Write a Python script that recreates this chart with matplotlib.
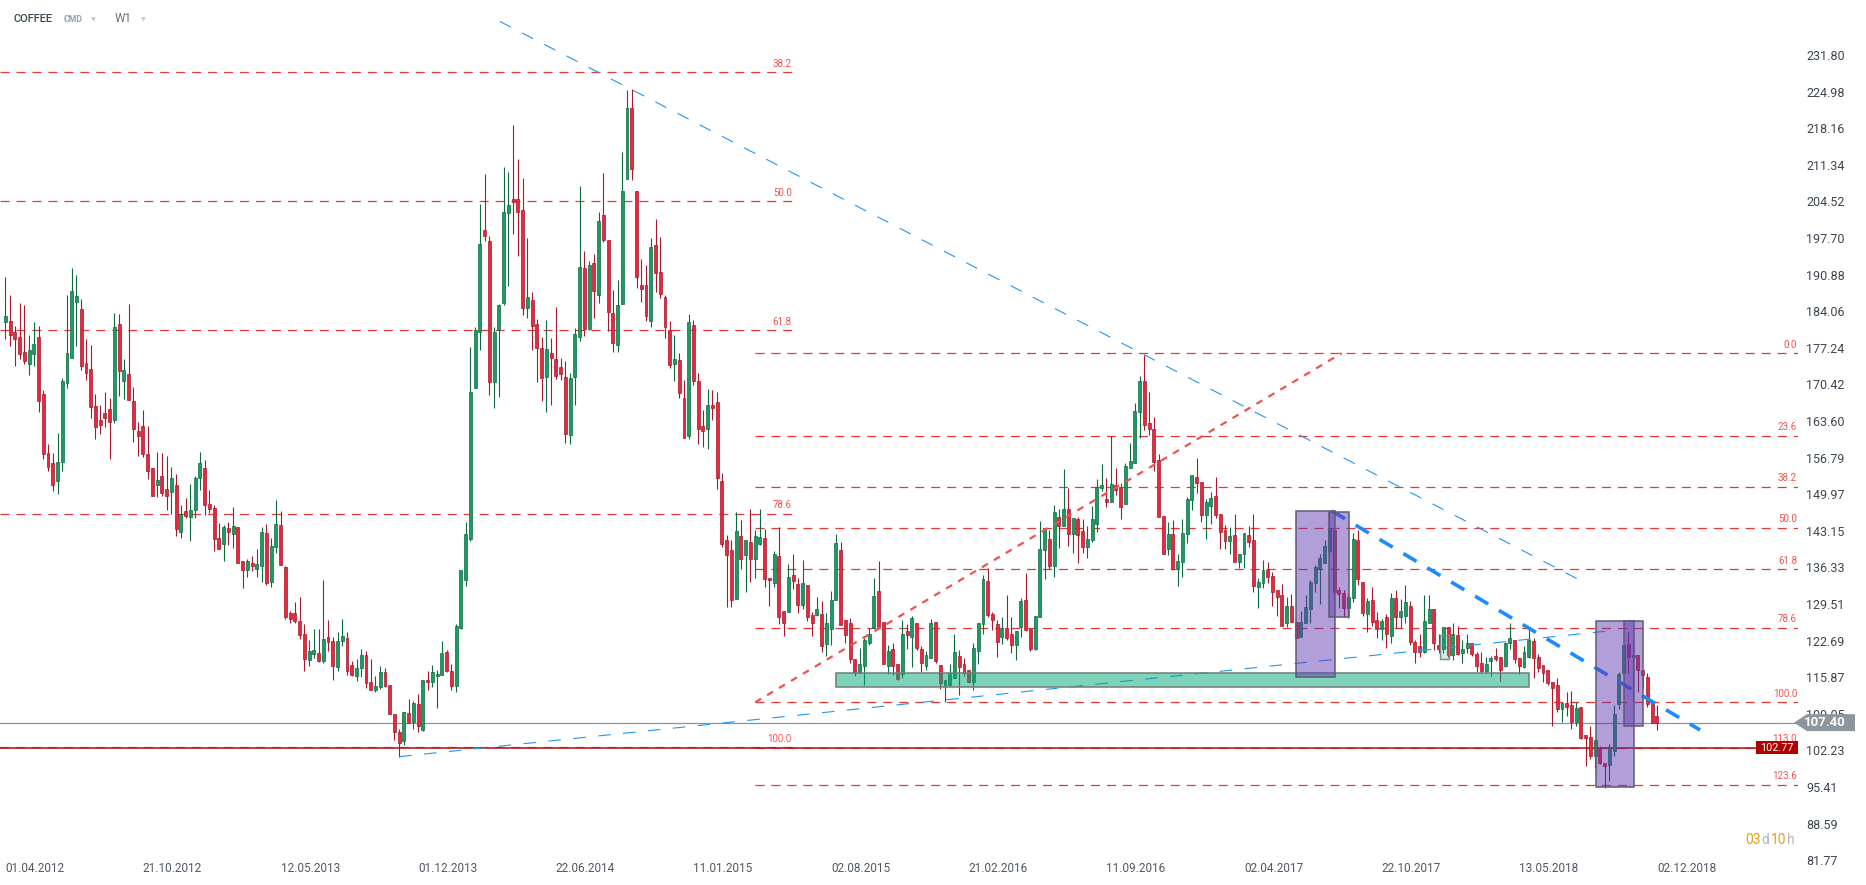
import numpy as np
import pandas as pd
import matplotlib
matplotlib.use("Agg")
import matplotlib.pyplot as plt
import matplotlib.transforms as mtransforms
from matplotlib.patches import Rectangle, Polygon

plt.rcParams['font.family'] = ['Roboto', 'DejaVu Sans']
plt.rcParams['lines.scale_dashes'] = False

# -------------------
# DATA (weekly candles, first candle = week of 01.04.2012)
# -------------------
OPEN = [182.1, 182.2, 180.2, 179.2, 176.4, 174.3, 176.0, 179.2, 168.6, 157.6,
        155.8, 152.5, 155.9, 170.7, 175.4, 185.8, 184.4, 174.5, 173.3, 166.4,
        163.8, 165.1, 165.8, 163.7, 181.7, 171.1, 172.4, 167.3, 161.7, 162.7,
        157.4, 154.8, 151.6, 153.4, 150.9, 150.4, 151.7, 143.0, 146.8, 145.8,
        147.1, 152.9, 154.8, 148.1, 147.4, 141.8, 140.6, 143.7, 142.6, 143.9,
        137.5, 135.8, 137.1, 136.1, 136.5, 142.7, 133.7, 140.2, 144.2, 136.4,
        127.9, 127.8, 126.3, 123.9, 119.1, 120.1, 120.3, 118.9, 123.3, 122.6,
        117.8, 122.7, 123.1, 118.2, 116.1, 117.5, 120.0, 114.9, 113.4, 114.0,
        116.9, 114.5, 109.1, 105.7, 103.9, 109.2, 107.5, 110.9, 106.1, 115.4,
        114.9, 116.1, 116.2, 120.5, 117.1, 114.2, 125.0, 133.9, 141.6, 169.7,
        180.2, 199.2, 197.1, 170.9, 180.5, 185.5, 202.3, 205.0, 205.0, 202.9,
        184.6, 186.1, 181.6, 177.2, 171.8, 176.3, 175.1, 173.7, 171.8, 161.0,
        171.8, 179.3, 192.2, 180.8, 193.1, 187.0, 202.0, 197.3, 183.8, 177.8,
        185.4, 208.7, 222.0, 206.5, 188.9, 188.9, 182.2, 196.4, 191.4, 186.8,
        180.6, 174.2, 174.9, 167.8, 160.9, 181.5, 171.0, 162.6, 162.2, 166.6,
        167.1, 152.4, 141.4, 139.6, 130.5, 142.2, 138.6, 141.0, 137.8, 140.7,
        141.8, 134.4, 133.5, 138.4, 128.2, 128.1, 135.0, 133.2, 129.3, 133.0,
        127.5, 127.5, 127.6, 122.1, 124.9, 130.2, 139.6, 126.5, 125.9, 119.2,
        116.7, 118.0, 122.3, 125.1, 131.9, 126.1, 118.0, 121.1, 118.3, 116.4,
        124.4, 123.4, 125.9, 121.1, 118.0, 119.5, 126.2, 118.1, 114.2, 114.5,
        115.8, 119.9, 118.3, 117.2, 115.0, 120.8, 125.7, 133.8, 127.6, 125.7,
        123.4, 125.0, 123.9, 121.9, 125.3, 130.2, 124.8, 121.2, 127.0, 139.6,
        141.7, 136.6, 145.7, 144.1, 147.2, 142.5, 145.3, 143.1, 140.2, 141.4,
        144.5, 151.2, 149.1, 148.6, 151.7, 151.4, 148.1, 154.9, 155.8, 165.2,
        171.1, 163.2, 162.1, 156.3, 145.9, 139.7, 142.5, 136.3, 137.3, 142.5,
        148.8, 153.2, 152.2, 146.0, 147.8, 149.6, 146.3, 143.3, 141.3, 142.4,
        137.3, 138.8, 142.4, 141.4, 132.7, 133.4, 135.8, 134.8, 132.1, 131.1,
        125.9, 129.1, 126.2, 123.3, 125.9, 128.6, 133.5, 136.0, 137.1, 139.4,
        143.3, 132.1, 131.5, 128.7, 130.6, 141.4, 133.6, 127.6, 130.3, 126.5,
        124.9, 127.0, 123.6, 130.7, 127.0, 127.3, 129.1, 122.4, 121.7, 120.5,
        125.9, 128.6, 121.9, 121.2, 125.3, 120.0, 123.7, 120.3, 121.4, 122.2,
        120.1, 118.5, 117.1, 118.8, 119.8, 119.6, 118.0, 122.2, 122.8, 119.4,
        117.8, 119.7, 122.6, 119.6, 118.2, 117.2, 114.9, 114.4, 109.9, 111.0,
        110.7, 107.6, 110.3, 105.1, 104.8, 101.2, 102.6, 99.8, 99.6, 102.2,
        110.9, 116.7, 122.0, 119.6, 120.0, 117.2, 115.9, 111.3, 108.6]
HIGH = [190.5, 187.1, 181.3, 185.6, 185.2, 179.6, 182.0, 181.3, 169.4, 159.3,
        157.6, 161.4, 171.7, 187.1, 192.1, 190.8, 186.3, 178.9, 177.8, 168.6,
        166.6, 169.0, 167.9, 183.7, 183.5, 175.2, 185.4, 169.9, 163.4, 165.6,
        162.7, 154.8, 157.8, 157.6, 157.1, 155.0, 153.7, 147.9, 149.2, 151.9,
        153.4, 157.8, 156.3, 150.7, 147.9, 144.6, 144.2, 144.8, 147.5, 143.9,
        137.5, 137.8, 138.4, 139.7, 143.9, 144.4, 141.8, 148.8, 146.8, 136.6,
        128.2, 129.9, 130.8, 125.8, 122.8, 124.8, 124.8, 134.0, 126.5, 123.4,
        124.3, 126.7, 124.2, 118.8, 119.2, 121.1, 120.8, 119.2, 116.1, 117.9,
        117.5, 114.5, 109.1, 106.2, 109.4, 111.9, 111.4, 112.7, 115.4, 117.1,
        118.2, 117.3, 122.6, 121.0, 118.4, 125.8, 135.8, 144.7, 177.4, 181.2,
        204.0, 209.6, 198.0, 181.2, 185.4, 210.9, 210.0, 218.8, 212.5, 208.8,
        197.7, 187.7, 182.7, 179.2, 182.4, 179.1, 184.8, 175.3, 174.8, 172.6,
        180.9, 207.4, 195.3, 193.4, 194.8, 202.6, 209.8, 197.3, 188.0, 189.9,
        213.7, 225.3, 225.4, 206.5, 193.8, 192.6, 197.7, 201.2, 197.9, 187.0,
        182.2, 179.6, 176.2, 171.2, 183.5, 182.5, 172.5, 165.7, 169.5, 169.4,
        169.1, 153.9, 142.4, 141.4, 146.6, 145.2, 141.4, 147.3, 143.3, 147.2,
        143.5, 134.4, 139.3, 143.9, 128.2, 137.0, 138.8, 134.3, 137.7, 133.0,
        128.0, 130.9, 130.0, 127.8, 131.9, 142.6, 141.0, 126.5, 126.9, 119.2,
        121.3, 123.1, 125.0, 134.3, 137.5, 126.1, 121.9, 122.2, 118.3, 126.6,
        125.7, 127.3, 125.9, 121.6, 120.8, 126.8, 126.2, 118.1, 115.3, 118.3,
        123.9, 120.9, 119.4, 117.2, 122.3, 126.0, 134.9, 136.3, 128.1, 126.5,
        127.1, 131.2, 127.1, 124.5, 130.7, 135.3, 124.8, 127.3, 145.0, 143.4,
        143.3, 148.0, 147.2, 154.7, 151.2, 145.5, 145.7, 145.3, 144.0, 147.8,
        152.8, 155.6, 153.0, 160.9, 154.8, 152.0, 155.8, 159.5, 167.0, 172.0,
        175.9, 169.1, 164.3, 157.5, 145.9, 144.7, 145.2, 138.8, 145.3, 149.4,
        153.6, 156.8, 152.2, 149.1, 150.4, 153.2, 146.3, 144.3, 143.9, 146.3,
        138.8, 142.7, 144.0, 146.3, 134.3, 137.7, 137.3, 135.4, 132.1, 133.2,
        130.9, 131.4, 126.2, 128.2, 131.2, 134.0, 136.8, 138.8, 141.4, 146.8,
        143.3, 132.6, 132.1, 131.4, 142.7, 143.3, 133.6, 130.7, 132.6, 128.0,
        126.8, 127.6, 131.6, 132.2, 130.4, 133.1, 130.1, 122.8, 123.9, 131.2,
        131.2, 128.6, 123.9, 125.3, 125.3, 125.9, 125.5, 122.8, 124.0, 122.3,
        120.6, 120.6, 119.6, 119.8, 121.3, 119.6, 122.5, 125.9, 122.8, 119.4,
        121.6, 124.8, 123.2, 120.2, 118.2, 117.2, 114.9, 115.7, 111.3, 113.1,
        113.3, 111.3, 110.3, 105.1, 106.8, 104.2, 103.1, 99.8, 103.4, 110.7,
        116.8, 121.9, 124.2, 122.8, 120.0, 117.2, 116.7, 111.3, 110.7]
LOW = [178.9, 177.6, 173.9, 175.2, 174.2, 172.2, 173.9, 165.2, 156.5, 154.3,
       150.6, 150.0, 154.2, 169.8, 175.4, 177.6, 173.1, 171.2, 164.2, 160.2,
       161.1, 162.5, 156.5, 163.2, 168.3, 167.7, 167.6, 159.7, 157.1, 156.9,
       152.8, 149.7, 149.5, 149.7, 147.0, 146.3, 142.2, 141.8, 145.6, 141.3,
       145.6, 150.7, 146.1, 146.5, 139.4, 139.7, 137.6, 140.5, 140.0, 137.2,
       132.5, 134.6, 135.7, 134.6, 133.7, 133.0, 132.7, 139.1, 136.8, 126.8,
       125.9, 126.0, 122.9, 117.1, 117.9, 119.5, 118.7, 118.6, 120.8, 115.4,
       117.1, 121.7, 116.3, 116.0, 115.2, 115.9, 113.8, 113.4, 113.1, 113.7,
       114.0, 109.0, 104.2, 101.0, 103.2, 107.4, 106.3, 105.7, 105.9, 113.5,
       114.0, 110.2, 116.2, 116.9, 113.5, 113.2, 124.8, 132.9, 141.3, 169.7,
       176.9, 197.2, 168.5, 166.0, 168.1, 185.3, 188.7, 198.4, 194.4, 183.4,
       182.8, 176.9, 170.9, 167.4, 165.2, 166.6, 171.5, 171.2, 159.5, 159.4,
       166.6, 178.6, 179.4, 180.6, 182.8, 185.5, 197.0, 180.3, 176.5, 176.4,
       185.4, 208.7, 208.6, 188.4, 185.7, 182.2, 181.1, 187.6, 186.6, 179.0,
       173.4, 171.1, 167.8, 160.4, 160.2, 170.3, 159.4, 158.8, 158.4, 163.8,
       151.0, 140.2, 128.9, 128.9, 130.5, 136.0, 131.8, 133.6, 134.3, 140.5,
       132.6, 129.1, 132.7, 125.8, 123.5, 128.1, 132.3, 127.9, 128.6, 126.3,
       123.5, 127.3, 120.6, 119.9, 121.8, 130.2, 125.6, 122.3, 118.5, 116.0,
       116.7, 114.5, 121.9, 125.1, 125.1, 118.4, 116.4, 116.3, 115.3, 115.7,
       121.1, 117.8, 120.9, 116.9, 117.2, 119.5, 118.5, 113.6, 111.3, 114.3,
       115.8, 112.5, 116.0, 115.0, 113.5, 118.4, 124.0, 127.0, 124.7, 119.7,
       122.0, 122.8, 120.4, 119.1, 123.3, 124.4, 120.8, 120.9, 127.0, 134.1,
       136.0, 134.6, 140.0, 144.1, 140.4, 139.1, 137.1, 139.1, 138.0, 141.1,
       142.9, 150.6, 147.5, 148.6, 149.8, 145.3, 148.1, 154.8, 155.8, 160.4,
       161.9, 161.0, 154.2, 145.8, 138.9, 138.6, 136.0, 132.9, 134.5, 140.8,
       147.0, 150.2, 144.7, 141.7, 144.4, 145.5, 139.7, 139.7, 138.8, 137.3,
       136.3, 136.3, 140.1, 131.7, 128.7, 132.4, 133.5, 129.2, 127.3, 125.5,
       125.3, 126.2, 123.1, 123.3, 125.9, 125.9, 131.8, 129.5, 137.1, 138.3,
       130.2, 128.7, 127.1, 126.9, 129.8, 133.0, 127.3, 124.3, 125.5, 123.1,
       122.8, 121.3, 122.3, 125.0, 125.0, 125.9, 121.9, 118.5, 119.6, 120.3,
       125.9, 120.9, 120.4, 120.3, 119.7, 119.1, 120.0, 118.5, 120.3, 119.8,
       116.9, 116.6, 116.7, 116.0, 118.9, 115.2, 117.8, 121.2, 118.5, 116.5,
       117.6, 119.4, 115.7, 116.9, 115.0, 114.4, 106.8, 109.3, 107.6, 108.7,
       106.2, 106.7, 104.3, 99.4, 100.6, 98.9, 99.7, 95.2, 96.6, 101.1,
       109.9, 116.7, 116.6, 111.3, 113.2, 113.8, 110.3, 107.3, 106.0]
CLOSE = [183.2, 179.7, 178.8, 176.1, 174.7, 176.8, 177.9, 167.4, 157.5, 155.1,
         151.7, 156.0, 171.1, 176.2, 187.8, 186.9, 173.9, 172.6, 166.3, 162.4,
         162.9, 164.2, 163.5, 181.1, 173.0, 173.1, 167.6, 162.2, 160.9, 157.5,
         154.3, 149.7, 152.6, 150.2, 149.7, 152.9, 143.5, 146.2, 145.9, 147.0,
         152.9, 155.8, 148.0, 147.3, 141.7, 139.7, 143.8, 143.0, 144.0, 137.2,
         135.9, 137.5, 136.6, 136.9, 142.9, 133.5, 140.3, 144.4, 136.8, 127.0,
         126.8, 126.3, 123.7, 119.3, 120.7, 120.9, 118.9, 122.9, 122.5, 118.0,
         122.6, 123.5, 117.1, 116.3, 117.5, 120.0, 114.8, 113.4, 114.2, 116.9,
         114.2, 109.0, 105.7, 103.6, 109.3, 107.4, 111.0, 106.7, 115.4, 114.9,
         116.8, 116.5, 120.4, 117.1, 114.2, 125.5, 135.8, 142.5, 169.1, 180.5,
         196.6, 198.0, 170.8, 180.1, 185.2, 202.5, 203.8, 204.5, 202.6, 184.6,
         186.8, 181.4, 177.3, 171.6, 177.1, 175.3, 171.9, 172.3, 161.1, 171.7,
         179.9, 192.3, 180.8, 192.7, 187.9, 200.8, 197.4, 184.0, 178.2, 185.2,
         206.5, 222.0, 210.6, 190.5, 188.2, 183.2, 196.1, 191.2, 187.3, 181.2,
         174.1, 175.1, 168.9, 160.5, 182.0, 171.1, 162.1, 161.8, 166.6, 166.1,
         153.0, 140.7, 138.7, 130.3, 143.1, 137.8, 141.4, 137.8, 142.2, 141.9,
         134.2, 133.9, 138.9, 127.0, 126.0, 134.5, 133.8, 129.4, 133.4, 127.0,
         126.0, 128.5, 121.7, 125.9, 130.2, 140.8, 125.6, 123.8, 119.3, 116.6,
         118.3, 122.8, 124.0, 131.0, 125.3, 118.4, 120.8, 118.0, 115.6, 123.9,
         123.8, 126.9, 121.4, 118.6, 120.0, 126.0, 118.8, 114.8, 115.3, 116.6,
         120.5, 117.8, 116.6, 115.0, 121.4, 126.0, 134.2, 127.5, 126.6, 122.4,
         124.8, 123.1, 121.8, 124.5, 130.1, 124.7, 121.2, 127.3, 139.7, 143.4,
         136.6, 146.6, 144.1, 147.2, 142.5, 145.5, 142.3, 140.2, 141.7, 145.3,
         151.4, 151.7, 148.5, 151.9, 150.7, 147.5, 155.2, 156.2, 165.5, 171.1,
         162.9, 162.2, 156.0, 145.8, 138.9, 142.5, 136.0, 137.6, 142.8, 149.1,
         153.6, 152.0, 146.0, 148.5, 149.2, 146.0, 143.0, 141.3, 142.2, 137.3,
         138.8, 142.7, 141.1, 132.9, 133.6, 135.8, 134.6, 131.8, 130.9, 125.5,
         129.1, 126.2, 123.1, 126.1, 128.9, 133.6, 136.4, 138.0, 140.3, 143.6,
         131.8, 131.4, 128.7, 130.9, 141.6, 134.2, 127.9, 130.1, 126.2, 124.9,
         126.4, 123.9, 130.7, 127.0, 128.2, 129.8, 122.5, 120.5, 120.5, 126.3,
         128.6, 122.3, 121.2, 125.3, 120.0, 123.9, 120.1, 121.1, 122.2, 120.1,
         118.0, 117.1, 118.3, 119.4, 119.3, 117.3, 122.3, 123.1, 119.2, 118.0,
         120.5, 122.8, 119.4, 117.5, 116.7, 114.7, 113.8, 109.9, 111.0, 110.4,
         107.6, 110.1, 104.5, 104.6, 101.1, 104.2, 99.8, 99.4, 102.8, 109.1,
         116.5, 121.9, 119.6, 120.0, 117.2, 116.3, 110.9, 107.3, 107.4]

FIRST_WEEK = "2012-04-01"
DATE_LABEL_STEP = 29

Y_TICKS = [231.80, 224.98, 218.16, 211.34, 204.52, 197.70, 190.88, 184.06,
           177.24, 170.42, 163.60, 156.79, 149.97, 143.15, 136.33, 129.51,
           122.69, 115.87, 109.05, 102.23, 95.41, 88.59, 81.77]

LAST_PRICE = 107.40
ALERT_PRICE = 102.77

# fibonacci retracements: (price at 0 %, price at 100 %), levels, x-span in candle index
FIB_LEFT_ANCHOR = (306.4, 102.8)
FIB_LEFT_LEVELS = [38.2, 50.0, 61.8, 78.6, 100.0]
FIB_LEFT_SPAN = (-1.2, 166.0)
FIB_RIGHT_ANCHOR = (176.25, 111.2)
FIB_RIGHT_LEVELS = [0.0, 23.6, 38.2, 50.0, 61.8, 78.6, 100.0, 113.0, 123.6]
FIB_RIGHT_SPAN = (158.0, 377.8)

# trend lines (x0, price0, x1, price1)
TREND_TOP = (104.2, 238.06, 331.8, 133.94)
TREND_BOTTOM = (83.0, 101.07, 337.7, 124.48)
TREND_BOLD = (279.5, 146.84, 357.1, 106.03)
FIB_TREND = (158.0, 111.2, 281.6, 176.25)

# rectangles (x0, x1, price_low, price_high)
PURPLE_BOXES = [(272.0, 280.2, 115.91, 146.84), (279.0, 283.2, 127.03, 146.60),
                (335.2, 343.2, 95.36, 126.28), (341.1, 345.1, 106.72, 126.28)]
SUPPORT_ZONE = (175.0, 321.1, 114.0, 116.6)
SMALL_BOX = (302.2, 304.1, 119.2, 123.73)

# -------------------
# STYLE
# -------------------
W, H = 1866, 885
GREEN, GREEN_EDGE = '#1a9c62', '#0e6b40'
RED, RED_EDGE = '#e8283c', '#a8182a'
FIB_RED = '#e53935'
FIB_TEXT = '#ef5350'

fig = plt.figure(figsize=(W / 100, H / 100), dpi=100)
fig.patch.set_facecolor('white')
ax = fig.add_axes([0, 0, 1798 / W, 1])
ax.set_xlim(-1.117, 377.73)
ax.set_ylim(77.15, 242.05)
for s in ax.spines.values():
    s.set_visible(False)
ax.set_xticks([])
ax.yaxis.tick_right()
ax.set_yticks(Y_TICKS)
ax.set_yticklabels([f"{v:.2f}" for v in Y_TICKS])
ax.tick_params(axis='y', length=0, pad=5.8, labelsize=9, labelcolor='#3c4650')

# -------------------
# CANDLES
# -------------------
o = np.array(OPEN)
h = np.array(HIGH)
l = np.array(LOW)
c = np.array(CLOSE)
x = np.arange(len(c))
up = c >= o
body_lo = np.minimum(o, c)
body_h = np.maximum(np.abs(c - o), 0.3)

for mask, fc, ec in [(up, GREEN, GREEN_EDGE), (~up, RED, RED_EDGE)]:
    ax.vlines(x[mask], l[mask], h[mask], color=ec, lw=0.8, zorder=2)
    ax.bar(x[mask], body_h[mask], bottom=body_lo[mask], width=0.62,
           color=fc, edgecolor=ec, linewidth=0.5, zorder=3)

# -------------------
# FIBONACCI LEVELS
# -------------------
def draw_fib(anchor, levels, span):
    p0, p100 = anchor
    for lev in levels:
        p = p0 + (p100 - p0) * lev / 100.0
        ax.plot(span, [p, p], color=FIB_RED, lw=0.9, dashes=(6.5, 5.0), zorder=1)
        ax.annotate(f"{lev:.1f}", xy=(span[1] - 0.3, p), xytext=(0, 6),
                    textcoords='offset points', ha='right', va='center',
                    fontsize=7, color=FIB_TEXT, zorder=6)

draw_fib(FIB_LEFT_ANCHOR, FIB_LEFT_LEVELS, FIB_LEFT_SPAN)
draw_fib(FIB_RIGHT_ANCHOR, FIB_RIGHT_LEVELS, FIB_RIGHT_SPAN)

# price lines
ax.axhline(LAST_PRICE, color='#8a9399', lw=0.9, zorder=1.5)
ax.axhline(ALERT_PRICE, color='#b71c1c', lw=1.2, zorder=1.6)

# -------------------
# DRAWINGS
# -------------------
zx0, zx1, zlo, zhi = SUPPORT_ZONE
ax.add_patch(Rectangle((zx0, zlo), zx1 - zx0, zhi - zlo, facecolor='#00a878', alpha=0.5,
                       edgecolor='none', zorder=3.5))
ax.add_patch(Rectangle((zx0, zlo), zx1 - zx0, zhi - zlo, facecolor='none',
                       edgecolor='#6f7f78', lw=1.1, zorder=3.6))
sx0, sx1, slo, shi = SMALL_BOX
ax.add_patch(Rectangle((sx0, slo), sx1 - sx0, shi - slo, facecolor='#00a878', alpha=0.2,
                       edgecolor='none', zorder=3.5))
ax.add_patch(Rectangle((sx0, slo), sx1 - sx0, shi - slo, facecolor='none',
                       edgecolor='#7d8a85', lw=1.0, zorder=3.6))

for (x0, p0, x1, p1) in [TREND_TOP, TREND_BOTTOM]:
    ax.plot([x0, x1], [p0, p1], color='#2196f3', lw=0.8, dashes=(9, 9), zorder=3.3)
bx0, bp0, bx1, bp1 = TREND_BOLD
ax.plot([bx0, bx1], [bp0, bp1], color='#1a8cff', lw=2.6, dashes=(11, 9),
        solid_capstyle='butt', zorder=4)
fx0, fp0, fx1, fp1 = FIB_TREND
ax.plot([fx0, fx1], [fp0, fp1], color='#ef5350', lw=1.6, dashes=(5, 5), zorder=4)

for (x0, x1, plo, phi) in PURPLE_BOXES:
    ax.add_patch(Rectangle((x0, plo), x1 - x0, phi - plo, facecolor='#5e35b1', alpha=0.48,
                           edgecolor='none', zorder=5))
    ax.add_patch(Rectangle((x0, plo), x1 - x0, phi - plo, facecolor='none',
                           edgecolor='#5f5a78', lw=1.1, zorder=5.1))

# -------------------
# DATE LABELS
# -------------------
dates = pd.date_range(FIRST_WEEK, periods=len(c), freq='7D')
for k in range(0, len(c), DATE_LABEL_STEP):
    ax.text(k, 0.019, dates[k].strftime('%d.%m.%Y'), transform=ax.get_xaxis_transform(),
            ha='left', va='center', fontsize=8.5, color='#4f5963')

# -------------------
# PRICE TAGS & HEADER
# -------------------
blend = mtransforms.blended_transform_factory(fig.transFigure, ax.transData)
hh = 1.58
tag = Polygon([(1794 / W, LAST_PRICE), (1807 / W, LAST_PRICE + hh), (1855 / W, LAST_PRICE + hh),
               (1855 / W, LAST_PRICE - hh), (1807 / W, LAST_PRICE - hh)],
              closed=True, transform=blend, facecolor='#8d969c', edgecolor='none')
fig.add_artist(tag)
fig.text(1825 / W, LAST_PRICE, f"{LAST_PRICE:.2f}", transform=blend, ha='center', va='center',
         fontsize=9.5, fontweight='bold', color='white')
fig.add_artist(Rectangle((1756 / W, ALERT_PRICE - 1.25), 42 / W, 2.5, transform=blend,
                         facecolor='#b00000', edgecolor='none'))
fig.text(1777 / W, ALERT_PRICE, f"{ALERT_PRICE:.2f}", transform=blend, ha='center',
         va='center', fontsize=7.8, color='white')


def px(xp, yp):
    return xp / W, 1 - yp / H

fig.text(*px(14, 19), "COFFEE", fontsize=8, fontweight='medium', color='#37474f',
         ha='left', va='center')
fig.text(*px(64, 19), "CMD", fontsize=6.3, fontweight='bold', color='#90a4ae',
         ha='left', va='center')
fig.text(*px(91, 20), "▼", fontsize=4.5, color='#c5cbd0', ha='left', va='center',
         family='DejaVu Sans')
fig.text(*px(115, 19), "W1", fontsize=8.5, color='#607080', ha='left', va='center')
fig.text(*px(141, 20), "▼", fontsize=4.5, color='#c5cbd0', ha='left', va='center',
         family='DejaVu Sans')

# countdown to candle close
for xp, txt, col in [(1745, "03", '#f39c12'), (1761, "d", '#b0b5ba'),
                     (1771, "10", '#f39c12'), (1787, "h", '#b0b5ba')]:
    fig.text(*px(xp, 840), txt, fontsize=10, color=col, ha='left', va='center')

fig.savefig("out.png", dpi=100)
